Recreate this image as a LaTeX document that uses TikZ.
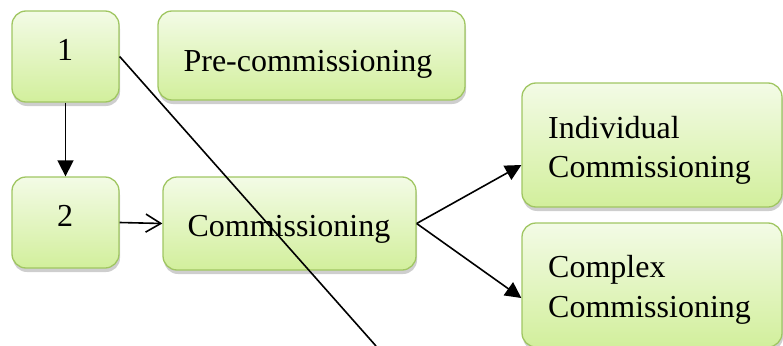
\documentclass[tikz,border=0pt]{standalone}
\usepackage{fontspec}
\setmainfont{Liberation Serif}
\usetikzlibrary{arrows.meta,shadows,calc}
\definecolor{boxtop}{RGB}{243,251,230}
\definecolor{boxbot}{RGB}{210,239,156}
\definecolor{boxline}{RGB}{160,198,98}
\tikzset{
  stage/.style={draw=boxline, line width=1.3pt, rounded corners=14pt,
    top color=boxtop, bottom color=boxbot, inner sep=0pt,
    drop shadow={shadow xshift=1pt, shadow yshift=-4pt, opacity=0.35, fill=black!55}},
  stagetext/.style={anchor=base, inner sep=0pt, font=\fontsize{32}{39}\selectfont},
  link/.style={line width=1.6pt, draw=black},
  solidtip/.style={-{Triangle[length=16pt,width=16pt]}},
  opentip/.style={-{Straight Barb[length=15pt,width=18pt]}}
}
\begin{document}
\begin{tikzpicture}[x=1pt,y=-1pt]
\useasboundingbox (0,0) rectangle (783,345);

% boxes
\node[stage, minimum width=107pt, minimum height=91pt] (b1) at (65.5,56.5) {};
\node[stage, minimum width=307pt, minimum height=89pt] (bpre) at (311.5,55.5) {};
\node[stage, minimum width=107pt, minimum height=91pt] (b2) at (65.5,222.5) {};
\node[stage, minimum width=253pt, minimum height=93pt] (bcomm) at (289.5,223.5) {};
\node[stage, minimum width=260pt, minimum height=124pt] (bind) at (652,145) {};
\node[stage, minimum width=260pt, minimum height=124pt] (bcplx) at (652,285) {};

% labels
\node[stagetext] (t1) at (65,60) {1};
\node[stagetext] (t2) at (65,226) {2};
\node[stagetext] (tpre) at (308,71) {Pre-commissioning};
\node[stagetext] (tcomm) at (289,236) {Commissioning};
\node[stagetext, anchor=base west] (tind1) at (548,138) {Individual};
\node[stagetext, anchor=base west] (tind2) at (548,177) {Commissioning};
\node[stagetext, anchor=base west] (tcplx1) at (548,277) {Complex};
\node[stagetext, anchor=base west] (tcplx2) at (548,317) {Commissioning};

% connectors
\coordinate (indin) at ($(bind.west)+(0,20)$);
\coordinate (cplxin) at ($(bcplx.west)+(0,13)$);
\coordinate (cut) at (376,346);
\draw[link, solidtip] (b1.south) -- (b2.north);
\draw[link, opentip] (b2.east) -- (bcomm.west);
\draw[link, solidtip] (bcomm.east) -- (indin);
\draw[link, solidtip] (bcomm.east) -- (cplxin);
\draw[link] (b1.east) -- (cut);
\end{tikzpicture}
\end{document}
